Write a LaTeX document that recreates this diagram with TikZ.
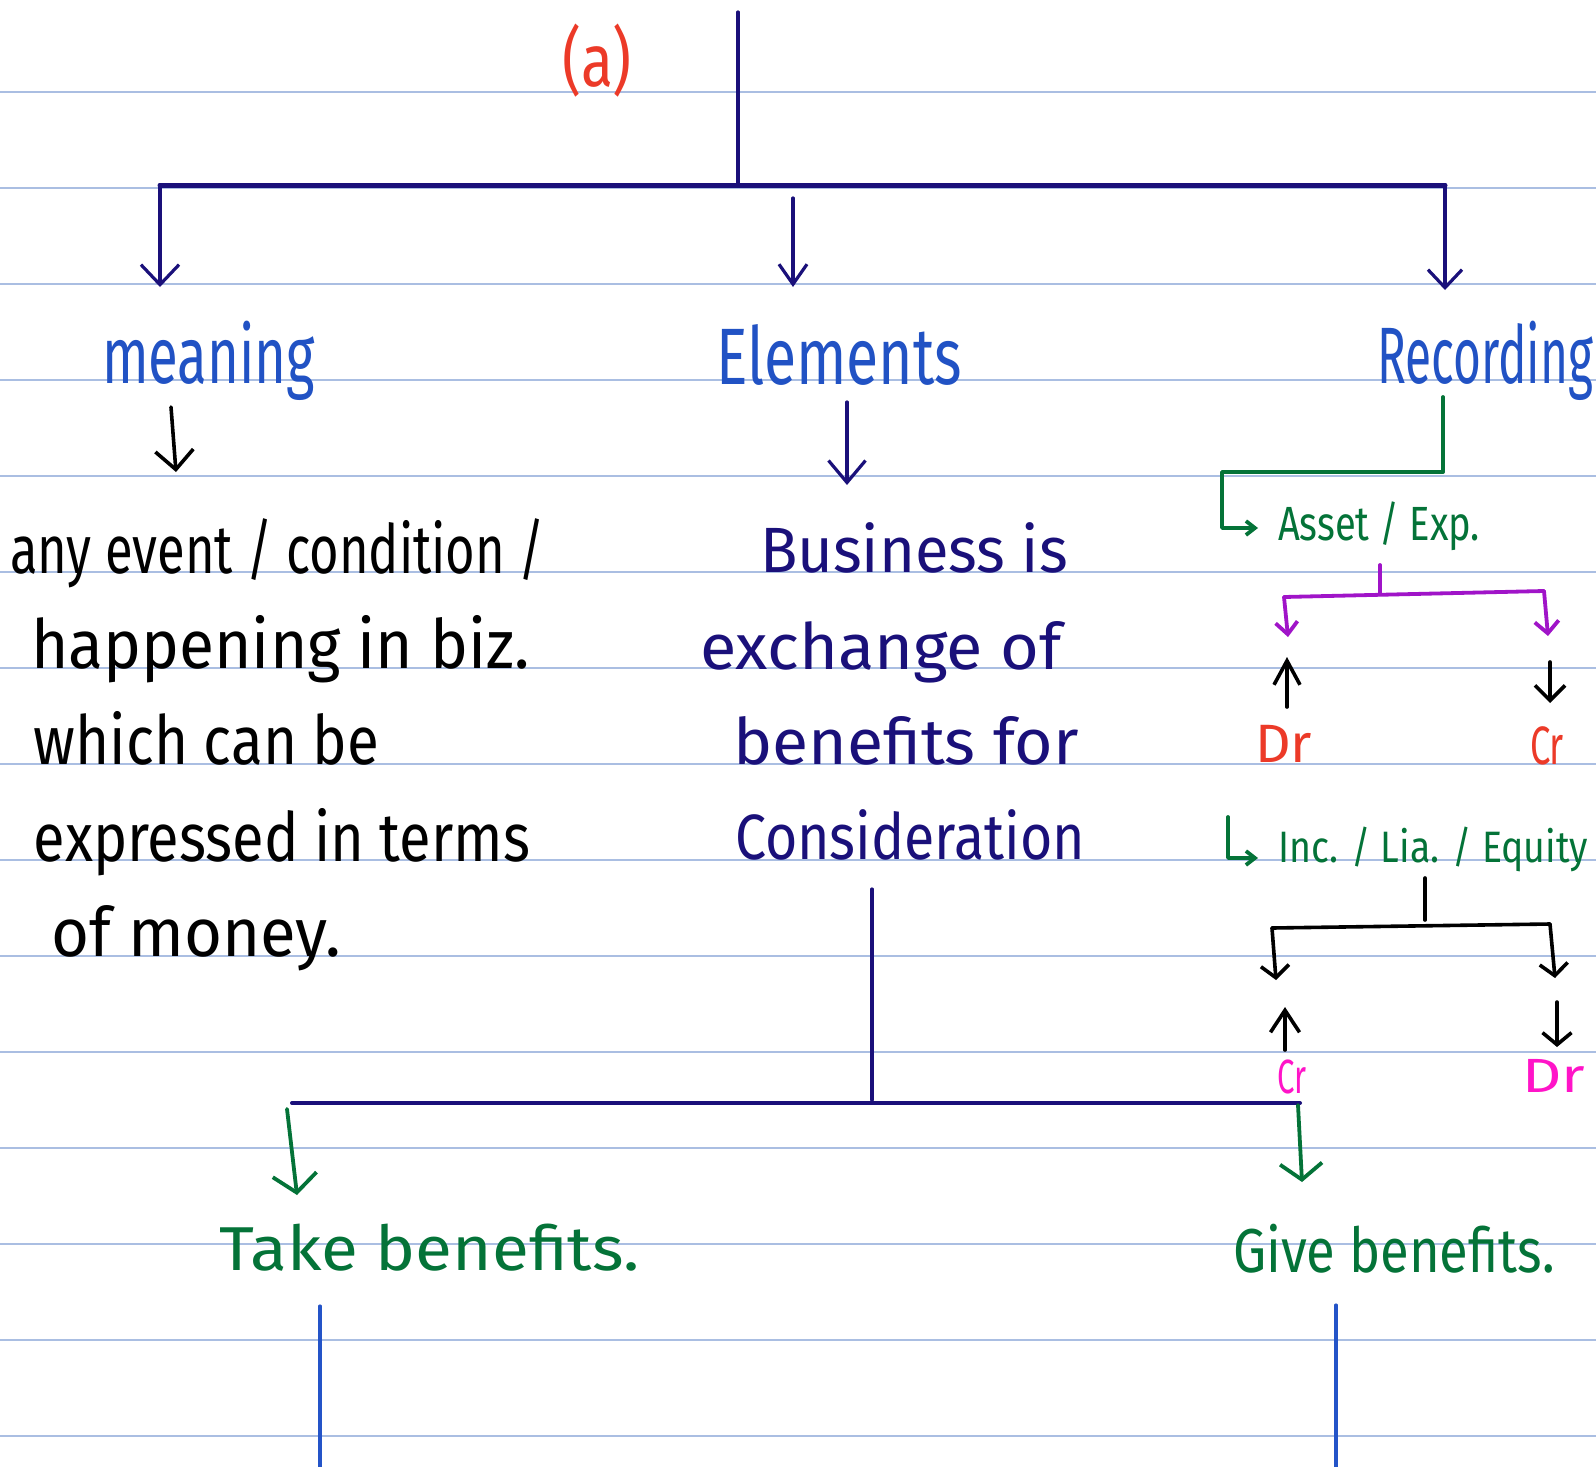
\documentclass[tikz,border=0pt]{standalone}
\usepackage{fontspec}
\setmainfont{Fira Sans}
\usepackage{graphicx}
\usetikzlibrary{arrows.meta}
\definecolor{ruleblue}{RGB}{170,190,226}
\definecolor{navy}{RGB}{26,16,122}
\definecolor{hblue}{RGB}{33,82,196}
\definecolor{lblue}{RGB}{36,84,200}
\definecolor{hgreen}{RGB}{4,115,56}
\definecolor{hred}{RGB}{236,58,40}
\definecolor{hpurple}{RGB}{160,20,200}
\definecolor{hmag}{RGB}{255,20,200}
\newcommand{\hwfit}[2]{\resizebox{#1}{\height}{#2}}
\tikzset{
  txt/.style={anchor=base west,inner sep=0pt,outer sep=0pt},
  fs/.style={font=\fontsize{#1}{#1}\selectfont},
  navyln/.style={draw=navy,line width=3.2pt},
  grnln/.style={draw=hgreen,line width=3.8pt},
  purln/.style={draw=hpurple,line width=3.8pt},
  blkln/.style={draw=black,line width=3.6pt},
  barb/.style 2 args={-{Straight Barb[length=#1,width=#2]}},
}
\begin{document}
\begin{tikzpicture}[x=1pt,y=-1pt,line cap=round,line join=round]
\useasboundingbox (0,0) rectangle (1596,1467);
\fill[white] (0,0) rectangle (1596,1467);
\foreach \yy in {92,188,...,1436} \draw[ruleblue,line width=1.6pt] (0,\yy) -- (1596,\yy);

% ---------- texts ----------
\node[txt,hred,fs=74] (lbl) at (562,86) {\hwfit{70pt}{(a)}};
\node[txt,hblue,fs=80] (meaning) at (102,383) {\hwfit{213pt}{meaning}};
\node[txt,hblue,fs=80] (elements) at (716,384) {\hwfit{246pt}{Elements}};
\node[txt,hblue,fs=80] (recording) at (1377,383) {\hwfit{216pt}{Recording}};

\node[txt,black,fs=68] (m1) at (10,573) {\hwfit{535pt}{any event / condition /}};
\node[txt,black,fs=68] (m2) at (31,668) {\hwfit{499pt}{happening in biz.}};
\node[txt,black,fs=68] (m3) at (34,764) {\hwfit{345pt}{which can be}};
\node[txt,black,fs=68] (m4) at (34,861) {\hwfit{496pt}{expressed in terms}};
\node[txt,black,fs=68] (m5) at (51,956) {\hwfit{290pt}{of money.}};

\node[txt,navy,fs=64] (e1) at (760,572) {\hwfit{308pt}{Business is}};
\node[txt,navy,fs=64] (e2) at (700,669) {\hwfit{362pt}{exchange of}};
\node[txt,navy,fs=64] (e3) at (733,764) {\hwfit{346pt}{benefits for}};
\node[txt,navy,fs=64] (e4) at (735,859) {\hwfit{350pt}{Consideration}};

\node[txt,hgreen,fs=48] (asset) at (1278,540) {\hwfit{202pt}{Asset / Exp.}};
\node[txt,hred,fs=54] (dr1) at (1255,762) {\hwfit{57pt}{Dr}};
\node[txt,hred,fs=54] (cr1) at (1530,764) {\hwfit{34pt}{Cr}};
\node[txt,hgreen,fs=44] (inc) at (1278,862) {\hwfit{310pt}{Inc. / Lia. / Equity}};
\node[txt,hmag,fs=48] (cr2) at (1277,1093) {\hwfit{29pt}{Cr}};
\node[txt,hmag,fs=48] (dr2) at (1522,1092) {\hwfit{63pt}{Dr}};

\node[txt,hgreen,fs=62] (take) at (219,1270) {\hwfit{421pt}{Take benefits.}};
\node[txt,hgreen,fs=62] (give) at (1233,1272) {\hwfit{322pt}{Give benefits.}};

% ---------- coordinates ----------
\coordinate (top) at (738,12);
\coordinate (barL) at (160,185);
\coordinate (barM) at (738,185);
\coordinate (barR) at (1445,185);
\coordinate (tipL) at (160,287);
\coordinate (midS) at (793,198);
\coordinate (tipM) at (793,287);
\coordinate (tipR) at (1445,290);
\coordinate (mS) at (171,407);
\coordinate (mT) at (176,472);
\coordinate (eS) at (847,402);
\coordinate (eT) at (847,485);

% ---------- top tree ----------
\draw[navyln] (top) -- (barM);
\draw[navy,line width=5pt] (barL) -- (barR);
\draw[navyln,barb={20pt}{38pt}] (barL) -- (tipL);
\draw[navyln,barb={20pt}{28pt}] (midS) -- (tipM);
\draw[navyln,barb={18pt}{34pt}] (barR) -- (tipR);
\draw[blkln,barb={19pt}{38pt}] (mS) -- (mT);
\draw[navyln,barb={22pt}{37pt}] (eS) -- (eT);

% ---------- recording branch ----------
\coordinate (rS) at (1443,397);
\coordinate (rT) at (1258,528);
\draw[grnln,barb={9pt}{14pt}] (rS) -- (1443,472) -- (1222,472) -- (1222,528) -- (rT);

\coordinate (pS) at (1380,565);
\coordinate (pM) at (1380,594);
\coordinate (pL) at (1284,597);
\coordinate (pR) at (1544,591);
\coordinate (pLT) at (1288,637);
\coordinate (pRT) at (1548,636);
\draw[purln] (pS) -- (pM);
\draw[purln] (pL) -- (pR);
\draw[purln,barb={12pt}{22pt}] (pL) -- (pLT);
\draw[purln,barb={12pt}{24pt}] (pR) -- (pRT);

\coordinate (u1S) at (1287,707);
\coordinate (u1T) at (1287,657);
\coordinate (d1S) at (1550,662);
\coordinate (d1T) at (1550,703);
\draw[blkln,barb={24pt}{26pt}] (u1S) -- (u1T);
\draw[blkln,barb={15pt}{30pt}] (d1S) -- (d1T);

\coordinate (hS) at (1228,817);
\coordinate (hT) at (1258,858);
\draw[grnln,barb={9pt}{14pt}] (hS) -- (1228,858) -- (hT);

\coordinate (kS) at (1425,878);
\coordinate (kM) at (1425,920);
\coordinate (kL) at (1272,928);
\coordinate (kR) at (1550,924);
\coordinate (kLT) at (1276,980);
\coordinate (kRT) at (1555,978);
\draw[blkln] (kS) -- (kM);
\draw[blkln] (kL) -- (kR);
\draw[blkln,barb={12pt}{28pt}] (kL) -- (kLT);
\draw[blkln,barb={12pt}{28pt}] (kR) -- (kRT);

\coordinate (u2S) at (1285,1050);
\coordinate (u2T) at (1285,1007);
\coordinate (d2S) at (1557,1002);
\coordinate (d2T) at (1557,1047);
\draw[blkln,barb={22pt}{29pt}] (u2S) -- (u2T);
\draw[blkln,barb={12pt}{29pt}] (d2S) -- (d2T);

% ---------- bottom tree ----------
\coordinate (cS) at (872,889);
\coordinate (cM) at (872,1100);
\coordinate (bL) at (292,1103);
\coordinate (bR) at (1300,1103);
\draw[navyln] (cS) -- (cM);
\draw[navy,line width=4pt] (bL) -- (bR);
\coordinate (gLS) at (287,1109);
\coordinate (gLT) at (297,1195);
\coordinate (gRS) at (1298,1105);
\coordinate (gRT) at (1302,1182);
\draw[grnln,barb={18pt}{44pt}] (gLS) -- (gLT);
\draw[grnln,barb={16pt}{42pt}] (gRS) -- (gRT);

\coordinate (vL) at (320,1306);
\coordinate (vLb) at (320,1467);
\coordinate (vR) at (1336,1305);
\coordinate (vRb) at (1336,1467);
\draw[lblue,line width=3.2pt] (vL) -- (vLb);
\draw[lblue,line width=3.2pt] (vR) -- (vRb);
\end{tikzpicture}
\end{document}
